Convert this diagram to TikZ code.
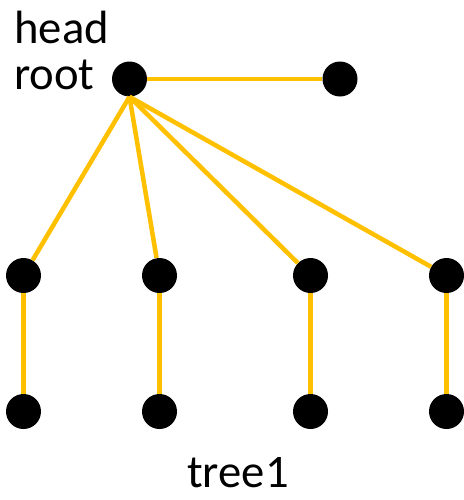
\documentclass[tikz,border=0pt]{standalone}
\usepackage{fontspec}
\setmainfont{Carlito}
\definecolor{edgegold}{HTML}{FFC000}
\begin{document}
\begin{tikzpicture}[x=0.75pt,y=-0.75pt,
  dot/.style={circle,fill=black,inner sep=0pt,minimum size=26.25pt},
  edge/.style={draw=edgegold,line width=3.4pt},
  lbl/.style={inner sep=0pt,anchor=base west,font=\fontsize{35pt}{40pt}\selectfont}]
\useasboundingbox (0,0) rectangle (464,500);
\node[dot] (root) at (129.5,79) {};
\node[dot] (right) at (340,79) {};
\node[dot] (a1) at (23.5,275.5) {};
\node[dot] (a2) at (159.5,275.5) {};
\node[dot] (a3) at (310.5,275.5) {};
\node[dot] (a4) at (446.5,275.5) {};
\node[dot] (b1) at (23.5,411.5) {};
\node[dot] (b2) at (159.5,411.5) {};
\node[dot] (b3) at (310.5,411.5) {};
\node[dot] (b4) at (446.5,411.5) {};
\node[lbl] (head) at (14,43) {head};
\node[lbl] (rootlbl) at (14,89) {root};
\node[lbl] (tree) at (187,487) {tree1};
\draw[edge] (root.east) -- (right.west);
\foreach \i in {1,2,3,4}{
  \draw[edge] (root.south) -- (a\i);
  \draw[edge] (a\i.south) -- (b\i.north);
}
\end{tikzpicture}
\end{document}
